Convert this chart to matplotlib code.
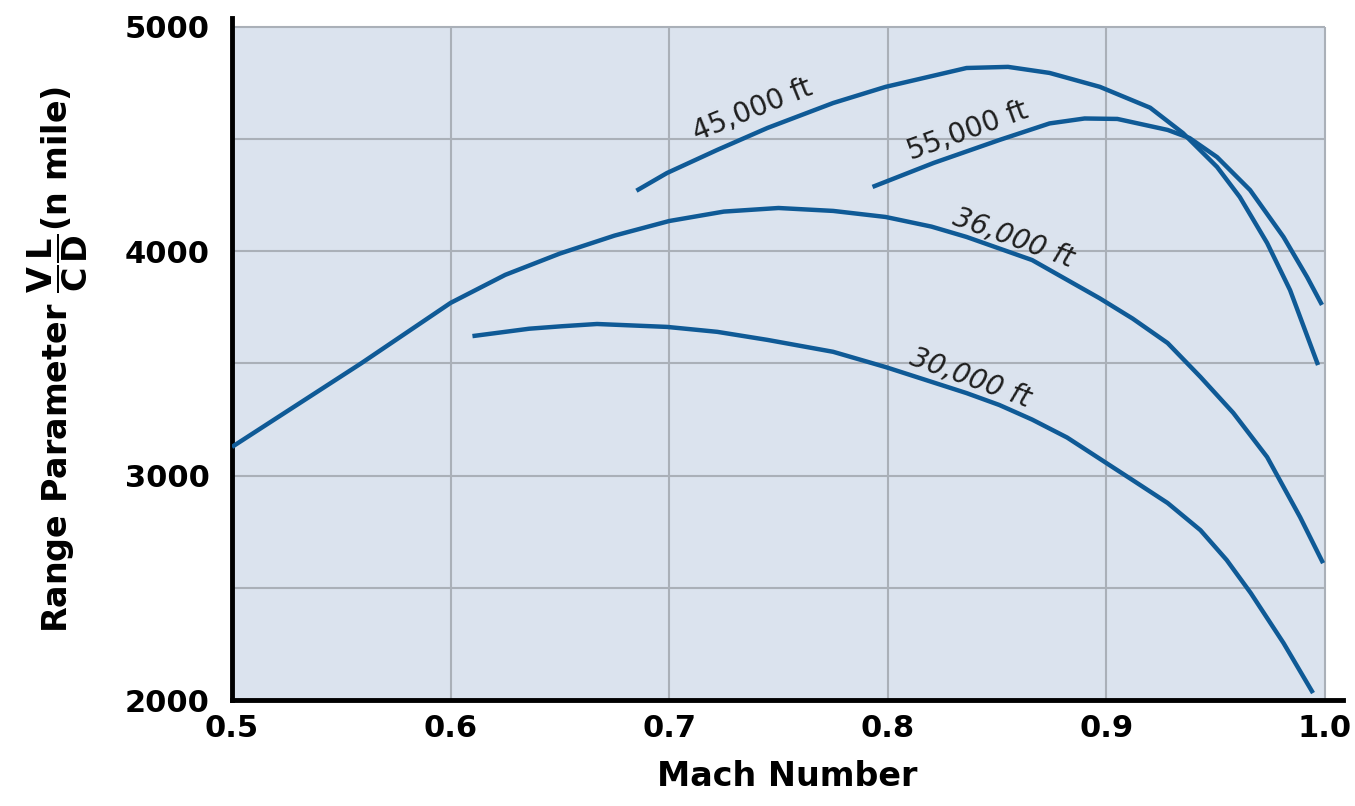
import matplotlib
matplotlib.use('Agg')
import matplotlib.pyplot as plt
from matplotlib.patches import Rectangle

# curves (Mach number, range parameter in n mile)
mach_30k = [0.610, 0.636, 0.651, 0.667, 0.699, 0.722, 0.745, 0.775, 0.799, 0.836, 0.851, 0.866,
            0.882, 0.897, 0.912, 0.928, 0.943, 0.955, 0.966, 0.981, 0.9945]
range_30k = [3622, 3655, 3666, 3676, 3663, 3641, 3605, 3552, 3484, 3368, 3315, 3250,
             3170, 3075, 2980, 2878, 2757, 2624, 2477, 2254, 2031]

mach_36k = [0.500, 0.559, 0.600, 0.625, 0.650, 0.675, 0.700, 0.725, 0.750, 0.775, 0.799, 0.820,
            0.836, 0.866, 0.897, 0.912, 0.928, 0.943, 0.958, 0.9735, 0.9886, 0.9991]
range_36k = [3128, 3500, 3770, 3895, 3990, 4070, 4135, 4177, 4193, 4180, 4153, 4110,
             4064, 3961, 3790, 3700, 3591, 3440, 3280, 3083, 2815, 2610]

mach_45k = [0.685, 0.699, 0.722, 0.745, 0.775, 0.799, 0.836, 0.855, 0.874, 0.897, 0.920,
            0.935, 0.9506, 0.961, 0.9735, 0.984, 0.9968]
range_45k = [4270, 4349, 4452, 4550, 4661, 4733, 4817, 4822, 4795, 4733, 4640,
             4527, 4376, 4242, 4037, 3827, 3493]

mach_55k = [0.793, 0.821, 0.851, 0.874, 0.890, 0.905, 0.928, 0.938, 0.9506, 0.9657, 0.981, 0.9918, 0.9986]
range_55k = [4287, 4394, 4496, 4570, 4592, 4590, 4541, 4505, 4420, 4273, 4064, 3885, 3761]

labels = ['30,000 ft', '36,000 ft', '45,000 ft', '55,000 ft']
label_xy = [(0.8376, 3435), (0.8573, 4059), (0.7383, 4630), (0.8367, 4536)]
label_rot = [-20, -20, 22, 20]

x_ticks = [0.5, 0.6, 0.7, 0.8, 0.9, 1.0]
x_ticklabels = ['0.5', '0.6', '0.7', '0.8', '0.9', '1.0']
y_ticks = [2000, 3000, 4000, 5000]
y_grid = [2500, 3000, 3500, 4000, 4500, 5000]

LINE = '#0f5a96'
PANEL = '#dbe3ee'
GRID = '#aab0b8'

fig = plt.figure(figsize=(13.55, 8.06), dpi=100)
ax = fig.add_axes([0.1712, 0.1315, 0.9908 - 0.1712, 0.9777 - 0.1315])
ax.set_xlim(0.5, 1.008)
ax.set_ylim(2000, 5040)

ax.add_patch(Rectangle((0.5, 2000), 0.5, 3000, facecolor=PANEL, edgecolor='none', zorder=0))
ax.hlines(y_grid, 0.5, 1.0, colors=GRID, linewidth=1.5, zorder=1)
ax.vlines(x_ticks[1:], 2000, 5000, colors=GRID, linewidth=1.5, zorder=1)

for xs, ys in [(mach_30k, range_30k), (mach_36k, range_36k), (mach_45k, range_45k), (mach_55k, range_55k)]:
    ax.plot(xs, ys, color=LINE, linewidth=3.2, solid_capstyle='butt', solid_joinstyle='round', zorder=3)

for text, (lx, ly), rot in zip(labels, label_xy, label_rot):
    style = 'italic' if rot < 0 else 'normal'
    ax.text(lx, ly, text, rotation=rot, rotation_mode='anchor', ha='center', va='center',
            fontsize=20, style=style, color='#1e1e1e', zorder=4)

for side in ['top', 'right']:
    ax.spines[side].set_visible(False)
for side in ['left', 'bottom']:
    ax.spines[side].set_linewidth(3.5)
    ax.spines[side].set_color('black')

ax.set_xticks(x_ticks)
ax.set_xticklabels(x_ticklabels)
ax.set_yticks(y_ticks)
ax.tick_params(length=0, labelsize=22, pad=10)
ax.tick_params(axis='y', pad=16)
for lab in ax.get_xticklabels() + ax.get_yticklabels():
    lab.set_fontweight('bold')

ax.set_xlabel('Mach Number', fontsize=24, fontweight='bold', labelpad=12)
ax.set_ylabel(r'Range Parameter $\mathbf{\dfrac{V}{C}\dfrac{L}{D}}$(n mile)', fontsize=24, fontweight='bold')
ax.yaxis.set_label_coords(-0.128, 0.5)

fig.savefig('out.png', dpi=100)
